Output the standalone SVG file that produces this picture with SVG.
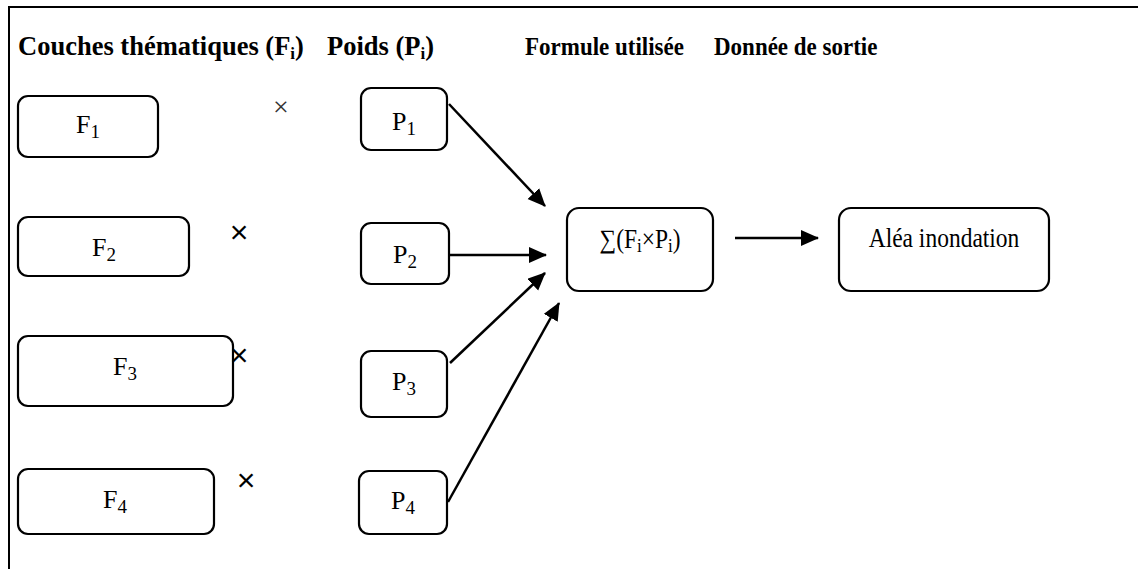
<svg xmlns="http://www.w3.org/2000/svg" width="1138" height="569" viewBox="0 0 1138 569">
  <style>
    .box { fill: #fff; stroke: #000; stroke-width: 2.2; }
    .hdr { font-family: "Liberation Serif", "Times New Roman", serif; font-weight: bold; fill: #000; }
    .big { font-size: 26.5px; }
    .small { font-size: 23px; }
    .lbl { font-family: "Liberation Serif", "Times New Roman", serif; font-size: 26px; fill: #000; text-anchor: middle; }
    .lbl-s { font-size: 23.5px; }
    .sub { font-size: 19px; }
    .sub-s { font-size: 17px; }
    .hsub { font-size: 17px; }
    .mul { font-family: "Liberation Sans", Arial, sans-serif; font-size: 32px; fill: #000; text-anchor: middle; }
    .mul-thin { font-family: "Liberation Serif", "Times New Roman", serif; font-size: 28px; fill: #333; text-anchor: middle; }
    .edge { fill: none; stroke: #000; stroke-width: 2.5; marker-end: url(#head); }
  </style>
  <defs>
    <marker id="head" markerUnits="userSpaceOnUse" markerWidth="20" markerHeight="18" refX="17" refY="8" orient="auto">
      <path d="M0,0 L18,8 L0,16 Z" fill="#000"/>
    </marker>
  </defs>

  <rect width="1138" height="569" fill="#fff"/>

  <!-- outer frame: top and left edges -->
  <path d="M9,569 L9,7 L1138,7" fill="none" stroke="#000" stroke-width="2"/>

  <!-- column headers -->
  <g id="headers">
    <text class="hdr big" x="18" y="55">Couches thématiques (F<tspan class="hsub" dy="4">i</tspan><tspan dy="-4">)</tspan></text>
    <text class="hdr big" x="327" y="55">Poids (P<tspan class="hsub" dy="4">i</tspan><tspan dy="-4">)</tspan></text>
    <text class="hdr small" transform="translate(525,55) scale(1,1.12)">Formule utilisée</text>
    <text class="hdr small" transform="translate(714,55) scale(1,1.12)">Donnée de sortie</text>
  </g>

  <!-- thematic layers -->
  <g id="F1"><rect class="box" x="18" y="96" width="140" height="61" rx="10"/><text class="lbl" x="88" y="133">F<tspan class="sub" dy="5">1</tspan></text></g>
  <g id="F2"><rect class="box" x="18" y="217" width="171" height="59" rx="10"/><text class="lbl" x="104" y="256">F<tspan class="sub" dy="5">2</tspan></text></g>
  <g id="F3"><rect class="box" x="18" y="336" width="215" height="70" rx="10"/><text class="lbl" x="125" y="375">F<tspan class="sub" dy="5">3</tspan></text></g>
  <g id="F4"><rect class="box" x="18" y="469" width="196" height="65" rx="10"/><text class="lbl" x="115" y="508">F<tspan class="sub" dy="5">4</tspan></text></g>

  <!-- multiplication signs -->
  <g id="times">
    <text class="mul-thin" x="281" y="116">×</text>
    <text class="mul" x="239" y="243">×</text>
    <text class="mul" x="239" y="366">×</text>
    <text class="mul" x="246" y="491">×</text>
  </g>

  <!-- weights -->
  <g id="P1"><rect class="box" x="361" y="88" width="86" height="62" rx="10"/><text class="lbl" x="404" y="130">P<tspan class="sub" dy="5">1</tspan></text></g>
  <g id="P2"><rect class="box" x="361" y="223" width="88" height="61" rx="10"/><text class="lbl" x="405" y="263">P<tspan class="sub" dy="5">2</tspan></text></g>
  <g id="P3"><rect class="box" x="361" y="351" width="86" height="66" rx="10"/><text class="lbl" x="404" y="390">P<tspan class="sub" dy="5">3</tspan></text></g>
  <g id="P4"><rect class="box" x="359" y="471" width="88" height="63" rx="10"/><text class="lbl" x="403" y="509">P<tspan class="sub" dy="5">4</tspan></text></g>

  <!-- formula and result -->
  <g id="formula"><rect class="box" x="567" y="208" width="146" height="83" rx="12"/><text class="lbl lbl-s" transform="translate(640,248) scale(1,1.12)">∑(F<tspan class="sub-s" dy="4">i</tspan><tspan dy="-4">×P</tspan><tspan class="sub-s" dy="4">i</tspan><tspan dy="-4">)</tspan></text></g>
  <g id="result"><rect class="box" x="839" y="208" width="210" height="83" rx="12"/><text class="lbl lbl-s" transform="translate(944,247) scale(1,1.12)">Aléa inondation</text></g>

  <!-- connectors -->
  <g id="connectors">
    <line class="edge" x1="449" y1="104" x2="545" y2="206"/>
    <line class="edge" x1="449" y1="255" x2="546" y2="255"/>
    <line class="edge" x1="450" y1="363" x2="545" y2="273"/>
    <line class="edge" x1="448" y1="502" x2="559" y2="303"/>
    <line class="edge" x1="735" y1="238" x2="818" y2="238"/>
  </g>
</svg>
